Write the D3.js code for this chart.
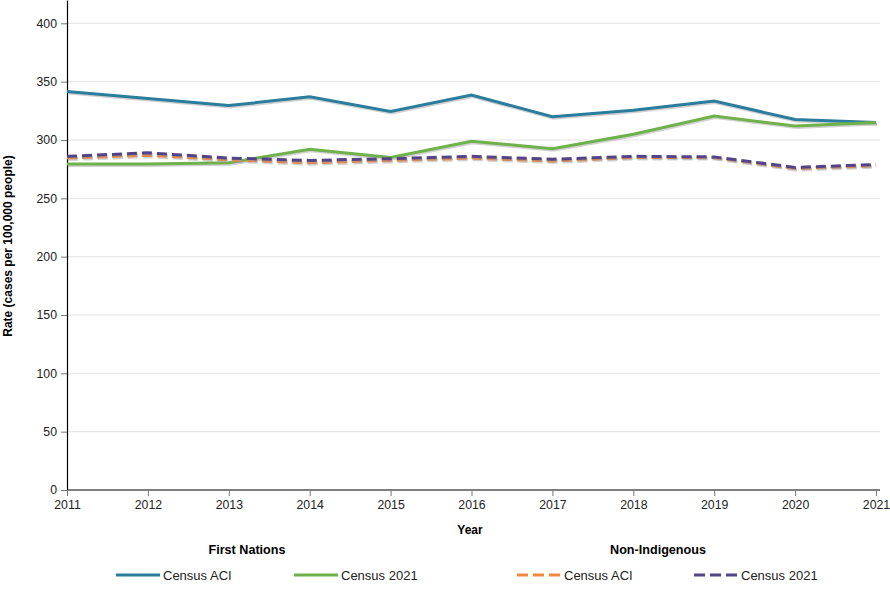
<!DOCTYPE html>
<html>
<head>
<meta charset="utf-8">
<script src="https://cdn.jsdelivr.net/npm/d3@7"></script>
<style>
  body { margin: 0; background: #fff; }
  text { font-family: "Liberation Sans", Arial, sans-serif; }
</style>
</head>
<body>
<div id="chart"></div>
<script>
// Chart data
var years = [2011, 2012, 2013, 2014, 2015, 2016, 2017, 2018, 2019, 2020, 2021];
var fnCensusACI  = [341.5, 335.5, 329.5, 337, 324.5, 338.5, 320, 325.5, 333.5, 317.5, 315];
var fnCensus2021 = [279.5, 279.5, 280.5, 292, 285, 299, 292.5, 305, 320.5, 312, 315];
var niCensusACI  = [284.5, 287, 283, 280.5, 282.5, 284.5, 282, 285, 285, 275.5, 278];
var niCensus2021 = [286, 289, 284.5, 282.5, 284, 286, 283.5, 286, 285.5, 276.5, 279];
var yTicks = [0, 50, 100, 150, 200, 250, 300, 350, 400];

var series = [
    {name: "Census ACI",  values: fnCensusACI,  color: "#2a7d9c", dash: null},
    {name: "Census 2021", values: fnCensus2021, color: "#6fb14b", dash: null},
    {name: "Census ACI",  values: niCensusACI,  color: "#f4873d", dash: "10,5"},
    {name: "Census 2021", values: niCensus2021, color: "#534488", dash: "10,5"}
];

var svgWidth = 890;
var svgHeight = 600;

var margin = {top: 0, left: 67, right: 14, bottom: 110};
var width = svgWidth - margin.left - margin.right;
var height = svgHeight - margin.top - margin.bottom;

var svg = d3.select("#chart")
    .append("svg")
    .attr("width", svgWidth)
    .attr("height", svgHeight);

var chartGroup = svg.append("g")
    .attr("transform", `translate(${margin.left}, ${margin.top})`);

var xScale = d3.scaleLinear()
    .domain([2011, 2021])
    .range([0, 809]);

var yScale = d3.scaleLinear()
    .domain([0, 420])
    .range([height, 0]);

// Gridlines
chartGroup.append("g")
    .selectAll("line")
    .data(yTicks.filter(d => d > 0))
    .enter()
    .append("line")
    .attr("x1", 0)
    .attr("x2", 813)
    .attr("y1", d => yScale(d))
    .attr("y2", d => yScale(d))
    .attr("stroke", "#e3e3e3")
    .attr("stroke-width", 1);

// Axes
var leftAxis = d3.axisLeft(yScale).tickValues(yTicks).tickSize(6).tickPadding(4).tickSizeOuter(0);
var bottomAxis = d3.axisBottom(xScale).tickValues(years).tickFormat(d3.format("d")).tickSize(6).tickPadding(4).tickSizeOuter(0);

var yAxis = chartGroup.append("g").call(leftAxis);
var xAxis = chartGroup.append("g")
    .attr("transform", `translate(0, ${height})`)
    .call(bottomAxis);

[xAxis, yAxis].forEach(function(ax) {
    ax.select(".domain").attr("stroke", "#000").attr("stroke-width", 1.2);
    ax.selectAll(".tick line").attr("stroke", "#777");
    ax.selectAll(".tick text")
        .attr("font-size", "12.3px")
        .attr("fill", "#222")
        .style("font-family", "'Liberation Sans', Arial, sans-serif");
});
xAxis.select(".domain").attr("d", `M0,0H${813}`);

// Lines
var line = d3.line()
    .x((d, i) => xScale(years[i]))
    .y(d => yScale(d));

series.forEach(function(s) {
    chartGroup.append("path")
        .datum(s.values)
        .attr("d", line)
        .attr("transform", "translate(1,1.5)")
        .attr("fill", "none")
        .attr("stroke", "#999")
        .attr("stroke-opacity", 0.45)
        .attr("stroke-width", 3)
        .attr("stroke-dasharray", s.dash);
    chartGroup.append("path")
        .datum(s.values)
        .attr("d", line)
        .attr("fill", "none")
        .attr("stroke", s.color)
        .attr("stroke-width", 3)
        .attr("stroke-dasharray", s.dash);
});

// Axis titles
svg.append("text")
    .attr("transform", "rotate(-90)")
    .attr("x", -246)
    .attr("y", 12)
    .attr("text-anchor", "middle")
    .attr("font-size", "12px")
    .attr("font-weight", "bold")
    .text("Rate (cases per 100,000 people)");

svg.append("text")
    .attr("x", 470)
    .attr("y", 534)
    .attr("text-anchor", "middle")
    .attr("font-size", "12px")
    .attr("font-weight", "bold")
    .text("Year");

// Legend
var groupTitles = [
    {label: "First Nations", x: 247},
    {label: "Non-Indigenous", x: 658}
];
svg.selectAll(".group-title")
    .data(groupTitles)
    .enter()
    .append("text")
    .attr("class", "group-title")
    .attr("x", d => d.x)
    .attr("y", 554)
    .attr("text-anchor", "middle")
    .attr("font-size", "12.6px")
    .attr("font-weight", "bold")
    .text(d => d.label);

var legendX = [116, 294, 517, 694];
var legend = svg.selectAll(".legend-item")
    .data(series)
    .enter()
    .append("g")
    .attr("class", "legend-item")
    .attr("transform", (d, i) => `translate(${legendX[i]}, 575)`);

legend.append("line")
    .attr("x1", 0)
    .attr("x2", 44)
    .attr("y1", 0)
    .attr("y2", 0)
    .attr("stroke", d => d.color)
    .attr("stroke-width", 3)
    .attr("stroke-dasharray", d => d.dash ? "11,5" : null);

legend.append("text")
    .attr("x", 47)
    .attr("y", 4.5)
    .attr("font-size", "13px")
    .attr("fill", "#222")
    .text(d => d.name);
</script>
</body>
</html>
